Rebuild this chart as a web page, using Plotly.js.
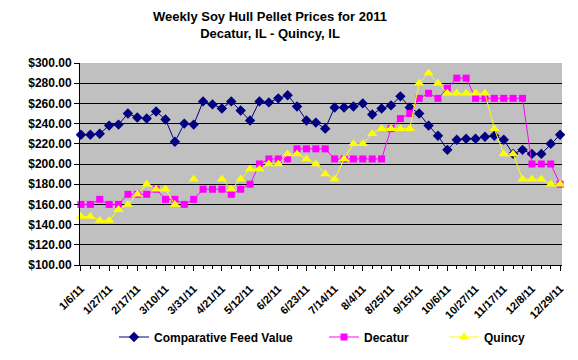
<!DOCTYPE html>
<html>
<head>
<meta charset="utf-8">
<script src="https://cdn.plot.ly/plotly-3.0.1.min.js"></script>
<style>html,body{margin:0;padding:0;background:#fff;}#chart{width:578px;height:360px;}</style>
</head>
<body>
<div id="chart"></div>
<script>
const weeks = ['1/6/11','1/13/11','1/20/11','1/27/11','2/3/11','2/10/11','2/17/11','2/24/11','3/3/11','3/10/11','3/17/11','3/24/11','3/31/11','4/7/11','4/14/11','4/21/11','4/28/11','5/5/11','5/12/11','5/19/11','5/26/11','6/2/11','6/9/11','6/16/11','6/23/11','6/30/11','7/7/11','7/14/11','7/21/11','7/28/11','8/4/11','8/11/11','8/18/11','8/25/11','9/1/11','9/8/11','9/15/11','9/22/11','9/29/11','10/6/11','10/13/11','10/20/11','10/27/11','11/3/11','11/10/11','11/17/11','11/24/11','12/1/11','12/8/11','12/15/11','12/22/11','12/29/11'];

const comparativeFeedValue = [229,229,230,238,239,250,246,245,252,244,222,240,239,262,259,255,262,253,243,262,261,265,268,257,243,241,235,256,256,257,260,249,255,258,267,256,250,238,228,214,224,225,225,227,228,224,210,214,210,210,220,229];
const decatur = [160,160,165,160,160,170,170,170,175,165,165,160,165,175,175,175,170,175,180,200,205,205,205,215,215,215,215,205,205,205,205,205,205,235,245,250,265,270,265,275,285,285,265,265,265,265,265,265,200,200,200,180];
const quincy = [148,148,144,144,155,160,170,180,175,175,160,null,185,null,null,185,175,185,195,195,200,200,210,210,205,200,190,185,205,220,220,230,235,235,235,235,280,290,280,270,270,270,270,270,235,210,210,185,185,185,180,180];

const labelEvery = 3;
const xIdx = weeks.map((w, i) => i);
const tickIdx = xIdx.filter(i => i % labelEvery === 0);
const tickLabels = tickIdx.map(i => weeks[i]);

const FONT = 'Arial, "Liberation Sans", sans-serif';

const traces = [
  {x: xIdx, y: comparativeFeedValue, name: 'Comparative Feed Value', type: 'scatter', mode: 'lines+markers',
   line: {color: '#000080', width: 1}, marker: {symbol: 'diamond', size: 8, color: '#000080', line: {width: 0}},
   cliponaxis: false, legend: 'legend'},
  {x: xIdx, y: decatur, name: 'Decatur', type: 'scatter', mode: 'lines+markers',
   line: {color: '#FF00FF', width: 1}, marker: {symbol: 'square', size: 7, color: '#FF00FF', line: {width: 0}},
   cliponaxis: false, legend: 'legend2'},
  {x: xIdx, y: quincy, name: 'Quincy', type: 'scatter', mode: 'lines+markers', connectgaps: false,
   line: {color: '#FFFF00', width: 1}, marker: {symbol: 'triangle-up', size: 9, color: '#FFFF00', line: {width: 0}},
   cliponaxis: false, legend: 'legend3'}
];

function legendAt(px) {
  return {orientation: 'h', xref: 'container', yref: 'container', x: px / 578, y: 1 - 337 / 360,
          xanchor: 'left', yanchor: 'middle', bgcolor: 'rgba(0,0,0,0)', borderwidth: 0,
          font: {family: FONT, size: 12, weight: 'bold', color: '#000'}};
}

const layout = {
  width: 578, height: 360,
  paper_bgcolor: '#ffffff', plot_bgcolor: '#c0c0c0',
  margin: {l: 80, r: 16, t: 63, b: 95, pad: 0},
  title: {text: 'Weekly Soy Hull Pellet Prices for 2011<br>Decatur, IL - Quincy, IL',
          font: {family: FONT, size: 13, weight: 'bold', color: '#000'},
          xref: 'container', yref: 'container', x: 270 / 578, xanchor: 'center', y: 1 - 21 / 360, yanchor: 'top'},
  xaxis: {type: 'linear', range: [-0.1, 51.2], tickmode: 'array', tickvals: tickIdx, ticktext: tickLabels,
          tickangle: -45, ticks: 'outside', ticklen: 5, tickcolor: '#000', tickwidth: 1, ticklabelstandoff: 7,
          showline: true, linecolor: '#000', linewidth: 1, showgrid: false, zeroline: false,
          tickfont: {family: FONT, size: 11, weight: 'bold', color: '#000'},
          minor: {tickmode: 'linear', tick0: 0, dtick: 1, ticks: 'outside', ticklen: 3, tickcolor: '#000', showgrid: false}},
  yaxis: {range: [100, 300], tick0: 100, dtick: 20, tickprefix: '$', tickformat: '.2f',
          ticks: 'outside', ticklen: 5, tickcolor: '#000', showline: true, linecolor: '#000', linewidth: 1,
          showgrid: true, gridcolor: '#000', gridwidth: 1, zeroline: false,
          tickfont: {family: FONT, size: 12, weight: 'bold', color: '#000'}},
  legend: legendAt(114),
  legend2: legendAt(324),
  legend3: legendAt(444),
  showlegend: true
};

Plotly.newPlot('chart', traces, layout, {staticPlot: true, displayModeBar: false});
</script>
</body>
</html>
